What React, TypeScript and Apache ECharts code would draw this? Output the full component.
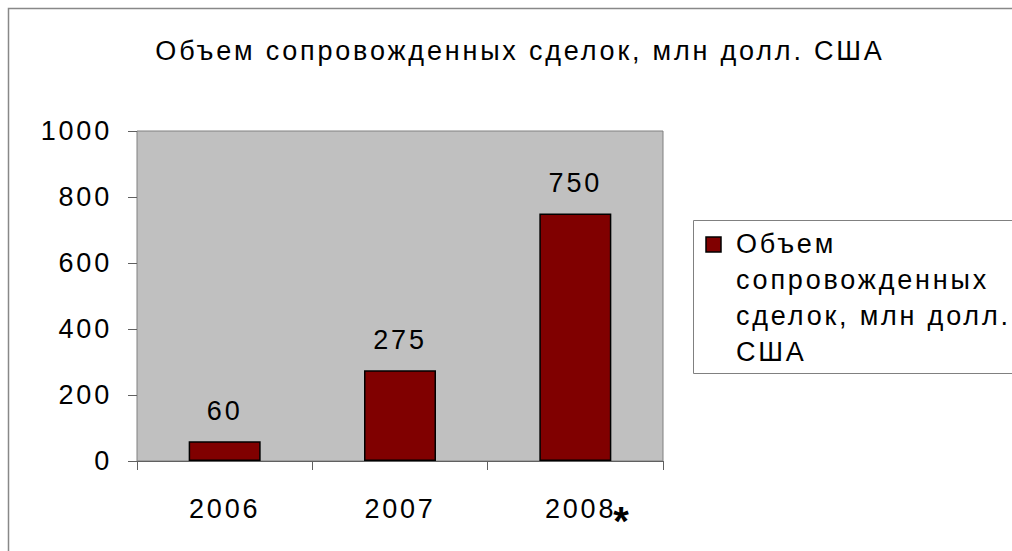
import React, { useEffect, useRef } from "react";
import * as echarts from "echarts";

const categories = ["2006", "2007", "2008*"];
const values = [60, 275, 750];
const seriesName = "Объем сопровожденных сделок, млн долл. США";
const legendLines = ["Объем", "сопровожденных", "сделок, млн долл.", "США"];
const chartTitle = "Объем сопровожденных сделок, млн долл. США";

const FONT = "Liberation Sans";
const FS = 27;

export default function App() {
  const ref = useRef<HTMLDivElement>(null);
  useEffect(() => {
    if (!ref.current) return;
    const chart = echarts.init(ref.current, null, { renderer: "svg" });
    const catData = categories.map((c) =>
      c.endsWith("*") ? { value: c, textStyle: { padding: [0, 0, 0, 30] } } : c
    );
    chart.setOption({
      animation: false,
      backgroundColor: "#ffffff",
      title: {
        text: chartTitle,
        left: 515,
        top: 32,
        textAlign: "center",
        textStyle: { fontFamily: FONT, fontSize: FS, fontWeight: "normal", color: "#000" },
      },
      grid: {
        left: 137,
        top: 131,
        width: 526,
        height: 330,
        show: true,
        backgroundColor: "#C0C0C0",
        borderColor: "#808080",
        borderWidth: 1,
      },
      xAxis: {
        type: "category",
        data: catData,
        axisLine: { show: true, lineStyle: { color: "#606060", width: 1 } },
        axisTick: { show: true, length: 9, alignWithLabel: false, lineStyle: { color: "#606060" } },
        axisLabel: {
          interval: 0,
          fontFamily: FONT,
          fontSize: FS,
          color: "#000",
          margin: 34,
          formatter: (v: string) => (v.endsWith("*") ? v.slice(0, -1) + "{star|*}" : v),
          rich: {
            star: {
              fontFamily: FONT,
              fontSize: 40,
              fontWeight: "bold",
              color: "#000",
              verticalAlign: "bottom",
              padding: [0, 0, -19, 4],
            },
          },
        },
      },
      yAxis: {
        type: "value",
        min: 0,
        max: 1000,
        interval: 200,
        splitLine: { show: false },
        axisLine: { show: false },
        axisTick: { show: true, length: 9, lineStyle: { color: "#606060" } },
        axisLabel: {
          fontFamily: FONT,
          fontSize: FS,
          color: "#000",
          margin: 25,
          formatter: (v: number) => String(v),
        },
      },
      legend: { show: false },
      series: [
        {
          name: seriesName,
          type: "bar",
          data: values,
          barWidth: 72,
          itemStyle: { color: "#800000", borderColor: "#000", borderWidth: 1.5 },
          label: {
            show: true,
            position: "top",
            distance: 17,
            fontFamily: FONT,
            fontSize: FS,
            color: "#000",
          },
        },
      ],
      graphic: [
        {
          type: "rect",
          shape: { x: 8.5, y: 8.5, width: 1100, height: 700 },
          style: { fill: "none", stroke: "#888888", lineWidth: 1.5 },
          silent: true,
        },
        {
          type: "rect",
          shape: { x: 693.5, y: 220.5, width: 400, height: 153 },
          style: { fill: "#ffffff", stroke: "#808080", lineWidth: 1 },
          silent: true,
        },
        {
          type: "rect",
          shape: { x: 706, y: 237, width: 15, height: 15 },
          style: { fill: "#800000", stroke: "#000", lineWidth: 1.5 },
          silent: true,
        },
        {
          type: "text",
          x: 736,
          y: 226,
          style: {
            text: legendLines.join("\n"),
            fontFamily: FONT,
            fontSize: FS,
            lineHeight: 36,
            fill: "#000",
          },
          silent: true,
        },
      ],
    });
    return () => chart.dispose();
  }, []);
  return (
    <>
      <style>{`.chart-root svg text { letter-spacing: 2.8px; }`}</style>
      <div
        ref={ref}
        className="chart-root"
        style={{ position: "fixed", left: 0, top: 0, width: 1012, height: 551 }}
      />
    </>
  );
}
